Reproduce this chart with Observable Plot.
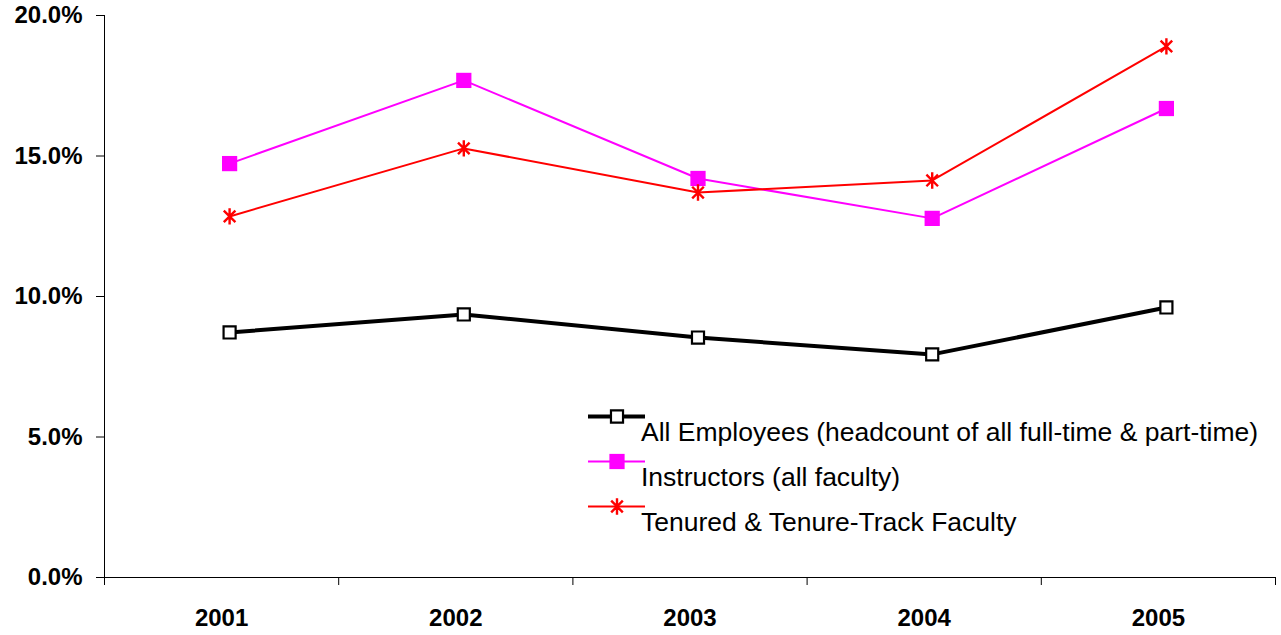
<!DOCTYPE html>
<html><head><meta charset="utf-8">
<script src="https://cdn.jsdelivr.net/npm/d3@7"></script>
<script src="https://cdn.jsdelivr.net/npm/@observablehq/plot@0.6"></script>
<style>
body{margin:0;background:#fff;}
#chart{position:relative;width:1281px;height:635px;overflow:hidden;background:#fff}
#chart svg text{font-family:"Liberation Sans",Arial,sans-serif}
</style>
</head><body><div id="chart"></div>
<script>
const years = ["2001", "2002", "2003", "2004", "2005"];
const allEmployees = [8.72, 9.36, 8.54, 7.94, 9.61];
const instructors = [14.73, 17.69, 14.20, 12.78, 16.69];
const tenured = [12.85, 15.27, 13.70, 14.13, 18.90];
const seriesNames = [
  "All Employees (headcount of all full-time & part-time)",
  "Instructors (all faculty)",
  "Tenured & Tenure-Track Faculty"
];
const yTicks = [0, 5, 10, 15, 20];

const toRows = (vals, s) => vals.map((v, i) => ({year: years[i], pos: i + 0.5, value: v, series: s}));
const rowsAll = toRows(allEmployees, seriesNames[0]);
const rowsIns = toRows(instructors, seriesNames[1]);
const rowsTen = toRows(tenured, seriesNames[2]);

const font = '"Liberation Sans", Arial, sans-serif';
const DX = 8;

// Excel-like asterisk: vertical bar plus X diagonals
const excelStar = {
  draw(context, size) {
    const r = Math.sqrt(size / Math.PI) * 1.08;
    const d = r * Math.SQRT1_2;
    context.moveTo(0, -r); context.lineTo(0, r);
    context.moveTo(-d, -d); context.lineTo(d, d);
    context.moveTo(-d, d); context.lineTo(d, -d);
  }
};

const chart = Plot.plot({
  width: 1281,
  height: 635,
  marginLeft: 104,
  marginRight: 6,
  marginTop: 15,
  marginBottom: 58,
  style: {fontFamily: font, background: "#fff", color: "#000", overflow: "visible"},
  x: {type: "linear", domain: [0, years.length]},
  y: {domain: [0, 20]},
  marks: [
    Plot.ruleY([0], {stroke: "#000", strokeWidth: 1}),
    Plot.ruleX([0], {y1: 0, y2: 20, stroke: "#000", strokeWidth: 1}),
    Plot.axisY({ticks: yTicks, tickSize: 8, tickPadding: 14, tickFormat: d => d.toFixed(1) + "%",
      fontSize: 24, fontWeight: "bold", label: null}),
    Plot.axisX({ticks: d3.range(years.length + 1), tickSize: 8, tickFormat: () => "", label: null}),
    Plot.axisX({ticks: years.map((y, i) => i + 0.5), tickSize: 0, tickPadding: 31,
      tickFormat: d => years[Math.floor(d)], fontSize: 24, fontWeight: "bold", label: null}),
    Plot.line(rowsIns, {x: "pos", y: "value", stroke: "#ff00ff", strokeWidth: 2, dx: DX}),
    Plot.line(rowsTen, {x: "pos", y: "value", stroke: "#ff0000", strokeWidth: 2, dx: DX}),
    Plot.line(rowsAll, {x: "pos", y: "value", stroke: "#000", strokeWidth: 4, dx: DX}),
    Plot.dot(rowsAll, {x: "pos", y: "value", symbol: "square", r: 6.8, stroke: "#000", strokeWidth: 2.2, fill: "#fff", dx: DX}),
    Plot.dot(rowsIns, {x: "pos", y: "value", symbol: "square", r: 8.6, fill: "#ff00ff", stroke: "none", dx: DX}),
    Plot.dot(rowsTen, {x: "pos", y: "value", symbol: excelStar, r: 7.6, stroke: "#ff0000", strokeWidth: 2.4, fill: "none", dx: DX})
  ]
});

document.getElementById("chart").appendChild(chart);

// Legend drawn inside the plot area
const svg = d3.select(chart);
const leg = svg.append("g").attr("font-family", font).attr("text-anchor", "start");
const legendItems = [
  {name: seriesNames[0], color: "#000", width: 4, symbol: d3.symbolSquare, r: 6.8, fill: "#fff", stroke: "#000", sw: 2.2},
  {name: seriesNames[1], color: "#ff00ff", width: 2, symbol: d3.symbolSquare, r: 8.6, fill: "#ff00ff", stroke: "none", sw: 0},
  {name: seriesNames[2], color: "#ff0000", width: 2, symbol: excelStar, r: 7.6, fill: "none", stroke: "#ff0000", sw: 2.4}
];
legendItems.forEach((it, k) => {
  const ly = 416.5 + k * 45;
  leg.append("line").attr("x1", 588).attr("x2", 645).attr("y1", ly).attr("y2", ly)
    .attr("stroke", it.color).attr("stroke-width", it.width);
  leg.append("path").attr("transform", `translate(617,${ly})`)
    .attr("d", d3.symbol(it.symbol, Math.PI * it.r * it.r)())
    .attr("fill", it.fill).attr("stroke", it.stroke).attr("stroke-width", it.sw);
  leg.append("text").attr("x", 641).attr("y", ly + 24.5).attr("font-size", 26.5)
    .attr("text-anchor", "start").attr("fill", "#000")
    .text(it.name);
});
</script>
</body></html>
